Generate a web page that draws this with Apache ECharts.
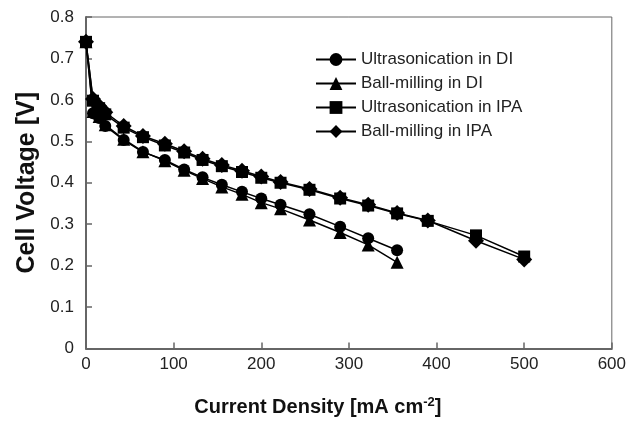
<!DOCTYPE html>
<html>
<head>
<meta charset="utf-8">
<script src="https://cdn.jsdelivr.net/npm/echarts@6/dist/echarts.min.js"></script>
<style>html,body{margin:0;padding:0;background:#fff}#c{width:629px;height:422px}</style>
</head>
<body>
<div id="c"></div>
<script>
// Data
const seriesNames = ["Ultrasonication in DI", "Ball-milling in DI", "Ultrasonication in IPA", "Ball-milling in IPA"];
const xDI = [0, 8, 15, 22, 43, 65, 90, 112, 133, 155, 178, 200, 222, 255, 290, 322, 355];
const ultraDI = [0.74, 0.568, 0.556, 0.537, 0.503, 0.474, 0.455, 0.432, 0.413, 0.395, 0.378, 0.362, 0.347, 0.324, 0.294, 0.266, 0.237];
const ballDI  = [0.74, 0.572, 0.560, 0.540, 0.505, 0.475, 0.453, 0.430, 0.410, 0.390, 0.372, 0.352, 0.337, 0.310, 0.280, 0.250, 0.208];
const xIPA = [0, 8, 15, 22, 43, 65, 90, 112, 133, 155, 178, 200, 222, 255, 290, 322, 355, 390, 445, 500];
const ultraIPA = [0.74, 0.598, 0.580, 0.565, 0.533, 0.510, 0.490, 0.473, 0.455, 0.440, 0.426, 0.412, 0.400, 0.383, 0.362, 0.345, 0.326, 0.308, 0.273, 0.222];
const ballIPA  = [0.74, 0.602, 0.585, 0.570, 0.537, 0.513, 0.494, 0.476, 0.458, 0.443, 0.429, 0.415, 0.402, 0.385, 0.364, 0.347, 0.327, 0.309, 0.260, 0.215];

function pairs(xs, ys) { return xs.map((x, i) => [x, ys[i]]); }

const chart = echarts.init(document.getElementById('c'));
const font = 'Liberation Sans, Arial, sans-serif';
const lineCommon = {
  type: 'line',
  lineStyle: { color: '#000', width: 1.5 },
  itemStyle: { color: '#000' },
  showSymbol: true,
  animation: false
};
chart.setOption({
  animation: false,
  grid: { left: 86, right: 14, top: 17, bottom: 60, show: true, borderColor: '#666', borderWidth: 1 },
  legend: {
    orient: 'vertical', left: 310, top: 46, itemWidth: 40, itemHeight: 16, itemGap: 7,
    textStyle: { fontFamily: font, fontSize: 17, color: '#222' },
    data: seriesNames
  },
  xAxis: {
    type: 'value', min: 0, max: 600, interval: 100,
    axisLine: { show: true, lineStyle: { color: '#666', width: 2 } },
    axisTick: { show: true, inside: true, length: 6, lineStyle: { color: '#666', width: 1.5 } },
    axisLabel: { fontFamily: font, fontSize: 17, color: '#222', margin: 7 },
    splitLine: { show: false },
    name: '{b|Current Density [mA cm}{s|-2}{b|]}',
    nameLocation: 'middle', nameGap: 47,
    nameTextStyle: {
      padding: [0, 62, 0, 0],
      rich: {
        b: { fontFamily: font, fontSize: 20, fontWeight: 'bold', color: '#111' },
        s: { fontFamily: font, fontSize: 13, fontWeight: 'bold', color: '#111', verticalAlign: 'top', padding: [0, 0, 10, 0] }
      }
    }
  },
  yAxis: {
    type: 'value', min: 0, max: 0.8, interval: 0.1,
    axisLine: { show: true, lineStyle: { color: '#666', width: 2 } },
    axisTick: { show: true, inside: true, length: 6, lineStyle: { color: '#666', width: 1.5 } },
    axisLabel: { fontFamily: font, fontSize: 17, color: '#222', margin: 12,
      formatter: v => v === 0 ? '0' : v.toFixed(1) },
    splitLine: { show: false },
    name: 'Cell Voltage [V]', nameLocation: 'middle', nameGap: 38,
    nameTextStyle: { fontFamily: font, fontSize: 25, fontWeight: 'bold', color: '#111' }
  },
  series: [
    Object.assign({}, lineCommon, { name: seriesNames[0], symbol: 'circle', symbolSize: 12, data: pairs(xDI, ultraDI) }),
    Object.assign({}, lineCommon, { name: seriesNames[1], symbol: 'triangle', symbolSize: 13, data: pairs(xDI, ballDI) }),
    Object.assign({}, lineCommon, { name: seriesNames[2], symbol: 'rect', symbolSize: 12, data: pairs(xIPA, ultraIPA) }),
    Object.assign({}, lineCommon, { name: seriesNames[3], symbol: 'diamond', symbolSize: 16, data: pairs(xIPA, ballIPA) })
  ]
});
</script>
</body>
</html>
